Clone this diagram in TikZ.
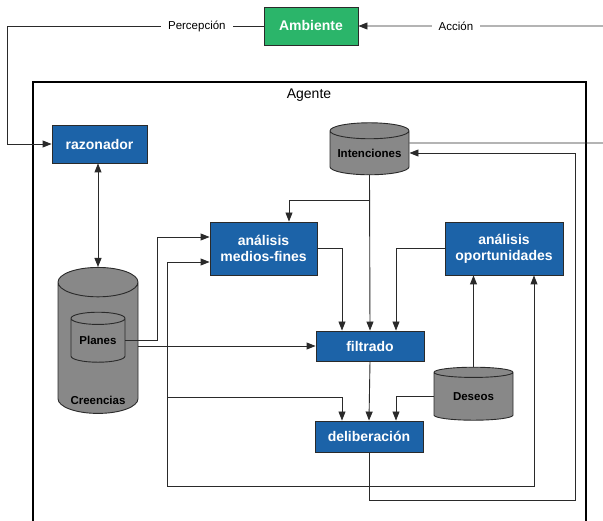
\documentclass[tikz,border=0pt]{standalone}
\usepackage{fontspec}
\setmainfont{Liberation Sans}
\usetikzlibrary{shapes.geometric,arrows.meta}

\definecolor{boxblue}{HTML}{1C63A8}
\definecolor{envgreen}{HTML}{2BB56A}
\definecolor{dbgray}{HTML}{888888}
\definecolor{edge}{HTML}{2A2A2A}

\begin{document}
\begin{tikzpicture}[x=1pt,y=-1pt,
  proc/.style={rectangle,draw=edge,line width=0.9pt,fill=boxblue,text=white,align=center,
    inner sep=0pt,font=\fontsize{14}{16}\selectfont\bfseries},
  db/.style={cylinder,shape border rotate=90,draw=edge,line width=0.9pt,fill=dbgray,
    inner sep=0pt,aspect=0.25,font=\fontsize{11.5}{13}\selectfont\bfseries},
  flow/.style={draw=edge,line width=0.9pt,-{Triangle[length=9pt,width=7pt]}},
  tag/.style={fill=white,inner xsep=7pt,font=\fontsize{11.5}{13}\selectfont}]

\useasboundingbox (0,0) rectangle (603,521);

% agent frame
\draw[line width=1.8pt] (33,82) rectangle (586,530);
\node[font=\fontsize{14}{16}\selectfont] (agente) at (309,95) {Agente};

\node[proc,fill=envgreen,minimum width=94pt,minimum height=38pt] (Ambiente) at (311,26) {Ambiente};
\node[proc,minimum width=95pt,minimum height=38pt] (razonador) at (99.5,144) {razonador};
\node[db,minimum width=79pt,minimum height=52pt] (Intenciones) at (369.5,153) {Intenciones};
\node[proc,minimum width=107pt,minimum height=53pt] (medios) at (263.5,248.5) {análisis\\medios-fines};
\node[proc,minimum width=118pt,minimum height=53pt] (oport) at (504,248.5) {análisis\\oportunidades};
\node[proc,minimum width=108pt,minimum height=30pt] (filtrado) at (370,346) {filtrado};
\node[proc,minimum width=108pt,minimum height=31pt] (delib) at (369,436.5) {deliberación};
\node[db,minimum width=79pt,minimum height=53pt] (Deseos) at (473.5,396.5) {Deseos};
\node[db,aspect=0.42,minimum width=80pt,minimum height=146pt] (Creencias) at (98,348) {\hspace*{70pt}};
\node[db,aspect=0.33,minimum width=54pt,minimum height=50pt] (Planes) at (98,340.5) {Planes};
\node[font=\fontsize{11.5}{13}\selectfont\bfseries] (crlabel) at (98,400) {Creencias};

\coordinate (intsplit) at (370,200);
\coordinate (crsplit) at (167,346);
\coordinate (crlow) at (167,397);
\coordinate (crbottom) at (167,486);
\coordinate (loopcorner) at (575,500);

% environment loop
\draw[flow] (Ambiente.west) -- node[tag,pos=0.26] {Percepción} (7,26) |- (razonador.west);
\draw[flow] ([yshift=10pt]Intenciones.east) -- (615,143) |- node[tag,pos=0.81] {Acción} (Ambiente.east);

\draw[draw=edge,line width=0.9pt,{Triangle[length=9pt,width=7pt]}-{Triangle[length=9pt,width=7pt]}]
  (Creencias.top |- razonador.south) -- (Creencias.top);

% intentions
\draw[flow] (Intenciones.bottom) -- (filtrado.north);
\draw[flow] (intsplit) -| ([xshift=25.5pt]medios.north);
\draw[flow] (medios.east) -| ([xshift=-28pt]filtrado.north);
\draw[flow] (oport.west) -| ([xshift=26pt]filtrado.north);

% beliefs
\draw[flow] (Planes.east) -- ++(32,0) |- ([yshift=11.5pt]medios.west);
\draw[flow] (Creencias.east |- filtrado.west) -- (filtrado.west);
\draw[flow] (crsplit) |- ([yshift=-13.5pt]medios.west);
\draw[flow] (crsplit) -- (crbottom) -| ([xshift=30pt]oport.south);
\draw[flow] (crlow) -| ([xshift=-27pt]delib.north);

% desires
\draw[flow] (Deseos.top) -- (Deseos.top |- oport.south);
\draw[flow] (Deseos.west) -| ([xshift=27pt]delib.north);

\draw[flow] (filtrado.south) -- (delib.north);
\draw[flow] (delib.south) |- (loopcorner) |- (Intenciones.east);

\end{tikzpicture}
\end{document}
